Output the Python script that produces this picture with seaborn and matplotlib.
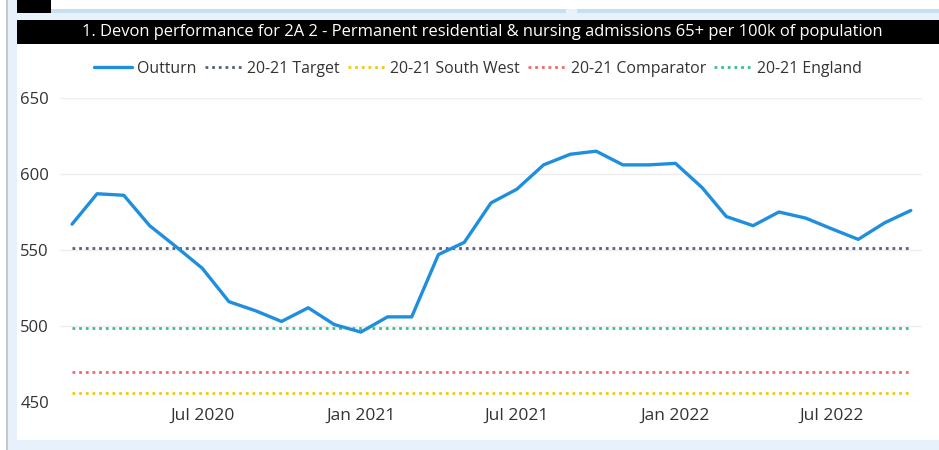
import pandas as pd
import numpy as np
import matplotlib
matplotlib.use('Agg')
import matplotlib.pyplot as plt
import matplotlib.dates as mdates
from matplotlib.patches import Rectangle
import seaborn as sns

# data (monthly, Feb 2020 - Oct 2022)
months = pd.date_range('2020-02-01', '2022-10-01', freq='MS')
outturn = [567, 587, 586, 566, 552, 538, 516, 510, 503, 512, 501, 496,
           506, 506, 547, 555, 581, 590, 606, 613, 615, 606, 606, 607,
           591, 572, 566, 575, 571, 564, 557, 568, 576]
target_2021 = 551.5
south_west_2021 = 456
comparator_2021 = 469.5
england_2021 = 498.5

series_names = ['Outturn', '20-21 Target', '20-21 South West', '20-21 Comparator', '20-21 England']
series_colors = ['#1F8FDD', '#56607E', '#F2C80F', '#F0686B', '#3BBF8E']
title = '1. Devon performance for 2A 2 - Permanent residential & nursing admissions 65+ per 100k of population'

sns.set_theme(style='white')
plt.rcParams['font.family'] = ['Open Sans', 'DejaVu Sans']

W, H = 939, 450
fig = plt.figure(figsize=(W / 100, H / 100), dpi=100)
fig.patch.set_facecolor('white')


def px_rect(x0, y0, x1, y1, color):
    # rectangle in pixel coords measured from the top-left
    fig.patches.append(Rectangle((x0 / W, 1 - y1 / H), (x1 - x0) / W, (y1 - y0) / H,
                                 transform=fig.transFigure, facecolor=color,
                                 edgecolor='none', zorder=0))


# tile frame
px_rect(8, 0, 17, H, '#E6F1FB')
px_rect(6, 0, 8, H, '#C8C8C8')
px_rect(17, 9, W, 13, '#C5E0F5')
px_rect(17, 13, W, 20, '#E8F2FB')
px_rect(566, 9, 577, 13, '#E8F2FB')
px_rect(17, 0, 51, 13, 'black')
px_rect(8, 440, W, H, '#E6F1FB')
px_rect(17, 20, W, 44, 'black')
fig.text(482 / W, 1 - 32.5 / H, title, color='white', fontsize=11.9,
         ha='center', va='center')

# plot area
ax = fig.add_axes([60 / W, 1 - 402 / H, 862 / W, 304 / H])
ax.set_facecolor('none')

df = pd.DataFrame({'month': months, 'value': outturn})
sns.lineplot(data=df, x='month', y='value', ax=ax, color=series_colors[0],
             linewidth=2.4, label=series_names[0], zorder=5)

ref_values = [target_2021, south_west_2021, comparator_2021, england_2021]
for name, val, col in zip(series_names[1:], ref_values, series_colors[1:]):
    ref = pd.DataFrame({'month': months, 'value': [val] * len(months)})
    sns.lineplot(data=ref, x='month', y='value', ax=ax, color=col, linewidth=2,
                 linestyle=(0, (1, 1.4)), label=name, zorder=3)

ax.set_ylim(450, 650)
ax.set_yticks([450, 500, 550, 600, 650])
ax.set_xlim(pd.Timestamp('2020-02-01') - pd.Timedelta(days=14),
            pd.Timestamp('2022-10-01') + pd.Timedelta(days=13))
ax.xaxis.set_major_locator(mdates.MonthLocator(bymonth=[1, 7]))
ax.xaxis.set_major_formatter(mdates.DateFormatter('%b %Y'))
ax.grid(axis='y', color='#EEEEEE', linewidth=1)
ax.grid(axis='x', visible=False)
for s in ax.spines.values():
    s.set_visible(False)
ax.tick_params(axis='both', length=0, labelcolor='#333333')
ax.tick_params(axis='y', pad=8, labelsize=12)
ax.tick_params(axis='x', pad=4, labelsize=12.5)
ax.set_xlabel('')
ax.set_ylabel('')

handles, labels = ax.get_legend_handles_labels()
ax.get_legend().remove()
fig.legend(handles, labels, loc='center', bbox_to_anchor=(478 / W, 1 - 69 / H),
           ncol=5, frameon=False, fontsize=11.4, handlelength=2.4,
           handletextpad=0.3, columnspacing=0.5, labelcolor='#333333')

fig.savefig('out.png', dpi=100)
